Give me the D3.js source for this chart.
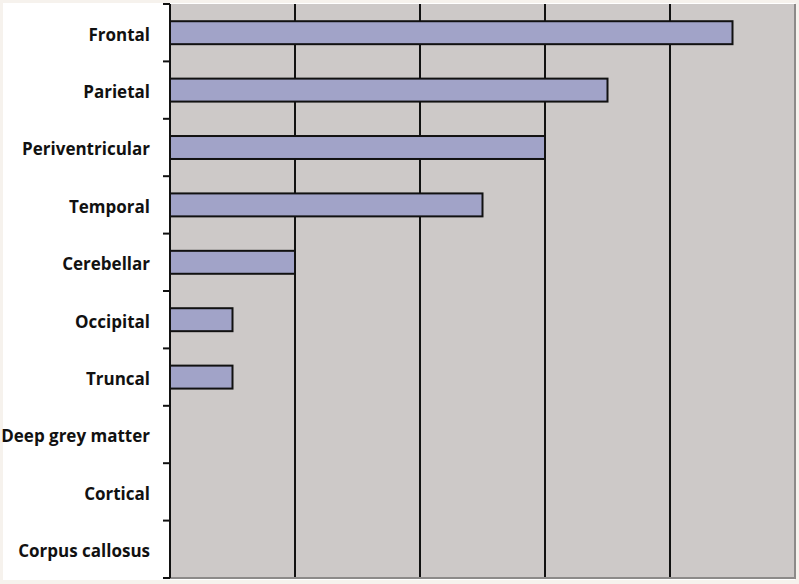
<!DOCTYPE html>
<meta charset="utf-8">
<style>
	body { margin: 0; background: #f6f2ed; }
	.label { font: bold 17px "Open Sans", sans-serif; fill: #111; text-anchor: end; }
</style>
<script src="https://d3js.org/d3.v7.min.js"></script>
<svg id="chart" width="799" height="584"></svg>
<script>
	var regions = ["Frontal", "Parietal", "Periventricular", "Temporal", "Cerebellar",
		"Occipital", "Truncal", "Deep grey matter", "Cortical", "Corpus callosus"];
	var counts = [9, 7, 6, 5, 2, 1, 1, 0, 0, 0];
	var gridTicks = [0, 2, 4, 6, 8, 10];

	var plotLeft = 170, plotTop = 4, plotRight = 795, plotBottom = 578;

	var svg = d3.select("#chart");

	// white label area
	svg.append("rect").attr("x", 3).attr("y", 3).attr("width", 792).attr("height", 577).attr("fill", "#fff");

	var x = d3.scaleLinear().domain([0, 10]).range([plotLeft, plotRight]);
	var y = d3.scaleBand().domain(regions).range([plotTop, plotBottom]).paddingInner(0.6).paddingOuter(0.3);

	svg.append("rect")
		.attr("x", plotLeft).attr("y", plotTop)
		.attr("width", plotRight - plotLeft).attr("height", plotBottom - plotTop)
		.attr("fill", "#cdc9c8");

	// grid lines
	svg.selectAll(".grid").data(gridTicks.slice(1, -1)).enter().append("line")
		.attr("x1", x).attr("x2", x)
		.attr("y1", plotTop).attr("y2", plotBottom)
		.attr("stroke", "#111").attr("stroke-width", 2);

	// plot border right/bottom
	svg.append("path")
		.attr("d", "M" + plotLeft + "," + plotBottom + "H" + plotRight + "V" + plotTop)
		.attr("fill", "none").attr("stroke", "#8c8a89").attr("stroke-width", 2);

	svg.selectAll(".bar").data(counts).enter().append("rect")
		.attr("x", x(0))
		.attr("y", function(d, i) { return y(regions[i]); })
		.attr("width", function(d) { return x(d) - x(0); })
		.attr("height", y.bandwidth())
		.attr("fill", "#a1a3c8")
		.attr("stroke", "#111").attr("stroke-width", 2)
		.style("display", function(d) { return d > 0 ? null : "none"; });

	// category axis with ticks between bands
	var edges = d3.range(regions.length + 1).map(function(i) {
		return plotTop + i * (plotBottom - plotTop) / regions.length;
	});
	svg.selectAll(".tick").data(edges).enter().append("line")
		.attr("x1", plotLeft - 7).attr("x2", plotLeft)
		.attr("y1", function(d) { return d; }).attr("y2", function(d) { return d; })
		.attr("stroke", "#111").attr("stroke-width", 2);
	svg.append("line")
		.attr("x1", plotLeft).attr("x2", plotLeft).attr("y1", plotTop).attr("y2", plotBottom)
		.attr("stroke", "#111").attr("stroke-width", 2);

	svg.selectAll(".label").data(regions).enter().append("text")
		.attr("class", "label")
		.attr("x", 150)
		.attr("y", function(d) { return y(d) + y.bandwidth() / 2 + 2; })
		.attr("dy", "0.35em")
		.text(function(d) { return d; });
</script>
